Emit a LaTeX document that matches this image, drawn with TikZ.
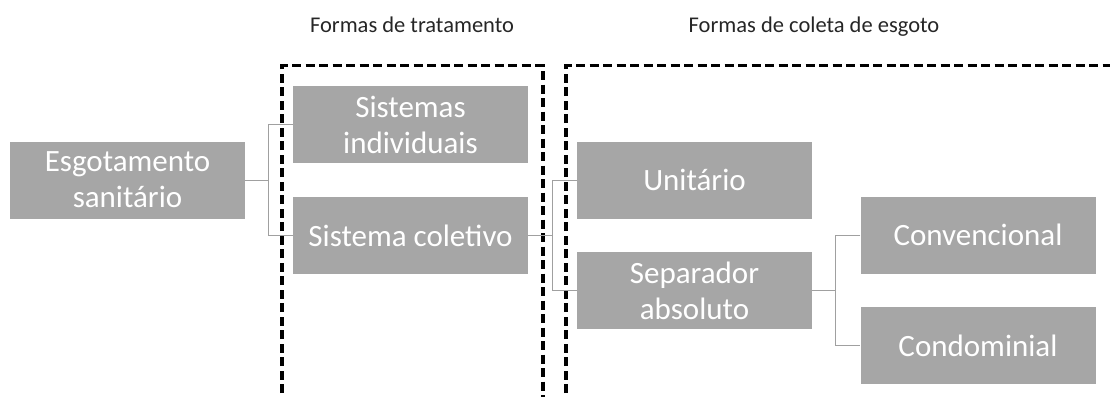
\documentclass[tikz,border=0pt]{standalone}
\usepackage{fontspec}
\setmainfont{Carlito}
\definecolor{boxgray}{HTML}{A6A6A6}
\definecolor{linegray}{HTML}{A0A0A0}
\tikzset{
  box/.style={rectangle, fill=boxgray, minimum width=235pt, minimum height=77pt, inner sep=0pt,
    text=white, align=center, font=\fontsize{31}{36}\selectfont},
  title/.style={anchor=base, text=black!85, font=\fontsize{22.5}{27}\selectfont, inner sep=0pt},
  conn/.style={draw=linegray, line width=1pt},
  frame/.style={draw=black, line width=3.5pt, dash pattern=on 9pt off 4.5pt}
}
\begin{document}
\begin{tikzpicture}[x=1pt,y=-1pt]
\useasboundingbox (0,0) rectangle (1110,396);
\begin{scope}
\clip (0,0) rectangle (1110,396);
\draw[frame] (282,420) -- (282,65.5) -- (543,65.5) -- (543,420);
\draw[frame] (566,420) -- (566,65.5) -- (1130,65.5);
\end{scope}
\node[title] (t1) at (412,33) {Formas de tratamento};
\node[title] (t2) at (814,33) {Formas de coleta de esgoto};

\node[box] (es) at (127.5,180) {Esgotamento\\sanitário};
\node[box] (si) at (410.5,124.5) {Sistemas\\individuais};
\node[box] (sc) at (410.5,235.5) {Sistema coletivo};
\node[box] (un) at (694.5,180) {Unitário};
\node[box] (sa) at (694.5,290.5) {Separador\\absoluto};
\node[box] (cv) at (978,235) {Convencional};
\node[box] (cd) at (978,345.5) {Condominial};

\coordinate (j1) at (268,180);
\coordinate (j2) at (552,235.5);
\coordinate (j3) at (835,290.5);

\draw[conn] (es.east) -- (j1);
\draw[conn] (si.west) -- (j1 |- si.west) -- (j1 |- sc.west) -- (sc.west);
\draw[conn] (sc.east) -- (j2);
\draw[conn] (un.west) -- (j2 |- un.west) -- (j2 |- sa.west) -- (sa.west);
\draw[conn] (sa.east) -- (j3);
\draw[conn] (cv.west) -- (j3 |- cv.west) -- (j3 |- cd.west) -- (cd.west);
\end{tikzpicture}
\end{document}
